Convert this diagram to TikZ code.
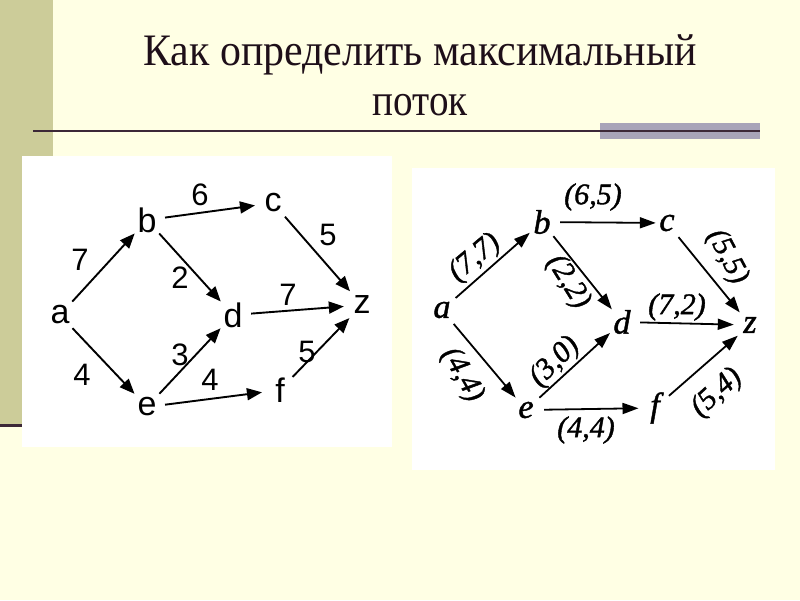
\documentclass[tikz,border=0pt]{standalone}
\usepackage{fontspec}
\setmainfont{Liberation Serif}
\newfontfamily\arialf{Liberation Sans}
\newfontfamily\rfont[FakeBold=1.3]{Liberation Serif Italic}
\usetikzlibrary{arrows.meta}
\definecolor{cream}{RGB}{255,255,228}
\definecolor{khaki}{RGB}{204,204,153}
\definecolor{darkline}{RGB}{60,40,55}
\definecolor{graybar}{RGB}{168,164,184}
\definecolor{titlecol}{RGB}{30,15,25}
\tikzset{
  lnode/.style={circle, minimum size=36pt, inner sep=0pt, font=\arialf\fontsize{34}{34}\selectfont},
  llab/.style={inner sep=0pt, font=\arialf\fontsize{31}{31}\selectfont},
  larr/.style={line width=1.9pt, -{Triangle[length=15pt,width=12pt]}, shorten >=0pt},
  rnode/.style={circle, minimum size=32pt, inner sep=0pt, font=\rfont\fontsize{34}{34}\selectfont},
  rlab/.style={inner sep=0pt, font=\rfont\fontsize{30}{30}\selectfont},
  rarr/.style={line width=1.8pt, -{Triangle[length=16pt,width=11pt]}, shorten <=2pt},
  titlefont/.style={text=titlecol, inner sep=0pt, font=\fontsize{45}{45}\selectfont}
}
\begin{document}
\begin{tikzpicture}[x=1pt,y=-1pt]
\useasboundingbox (0,0) rectangle (800,600);
\fill[cream] (0,0) rectangle (800,600);
\fill[khaki] (0,0) rectangle (53,425);
\draw[darkline, line width=3pt] (0,425) -- (53,425);
\fill[graybar] (600,123) rectangle (760,139);
\draw[darkline, line width=2pt] (33,131) -- (760,131);
\node[titlefont, anchor=base] (t1) at (420,65) {\scalebox{0.93}[1]{Как определить максимальный}};
\node[titlefont, anchor=base] (t2) at (420,115) {\scalebox{0.87}[1]{поток}};
\fill[white] (22,156) rectangle (392,447);
\fill[white] (412,168) rectangle (775,470);
% left graph
\node[lnode] (la) at (60,315) {a};
\node[lnode] (lb) at (147,220) {b};
\node[lnode] (lc) at (273,203) {c};
\node[lnode] (ld) at (233,315) {d};
\node[lnode] (lz) at (362,305) {z};
\node[lnode] (le) at (147,407) {e};
\node[lnode] (lf) at (280,390) {f};
\draw[larr] (la) -- (lb);
\draw[larr] (lb) -- (lc);
\draw[larr] (lb) -- (ld);
\draw[larr] (lc) -- (lz);
\draw[larr] (ld) -- (lz);
\draw[larr] (la) -- (le);
\draw[larr] (le) -- (ld);
\draw[larr] (le) -- (lf);
\draw[larr] (lf) -- (lz);
\node[llab] (l1) at (80,260) {7};
\node[llab] (l2) at (200,195) {6};
\node[llab] (l3) at (180,278) {2};
\node[llab] (l4) at (328,235) {5};
\node[llab] (l5) at (288,295) {7};
\node[llab] (l6) at (82,375) {4};
\node[llab] (l7) at (180,355) {3};
\node[llab] (l8) at (210,380) {4};
\node[llab] (l9) at (307,352) {5};
% right graph
\node[rnode] (ra) at (442,310) {a};
\node[rnode] (rb) at (542,222) {b};
\node[rnode] (rc) at (667,223) {c};
\node[rnode] (rd) at (622,322) {d};
\node[rnode] (rz) at (750,325) {z};
\node[rnode] (re) at (526,410) {e};
\node[rnode] (rf) at (655,408) {f};
\draw[rarr] (ra) -- (rb);
\draw[rarr, shorten >=-5pt] (rb) -- (rc);
\draw[rarr] (rb) -- (rd);
\draw[rarr] (rc) -- (rz);
\draw[rarr] (rd) -- (rz);
\draw[rarr] (ra) -- (re);
\draw[rarr] (re) -- (rd);
\draw[rarr] (re) -- (rf);
\draw[rarr] (rf) -- (rz);
\node[rlab, rotate=40] (r1) at (475,258) {(7,7)};
\node[rlab] (r2) at (593,197) {(6,5)};
\node[rlab, rotate=-58] (r3) at (568,282) {(2,2)};
\node[rlab, rotate=-62] (r4) at (727,257) {(5,5)};
\node[rlab] (r5) at (677,307) {(7,2)};
\node[rlab, rotate=-60] (r6) at (462,375) {(4,4)};
\node[rlab, rotate=45] (r7) at (555,362) {(3,0)};
\node[rlab] (r8) at (586,430) {(4,4)};
\node[rlab, rotate=42] (r9) at (717,393) {(5,4)};
\end{tikzpicture}
\end{document}
